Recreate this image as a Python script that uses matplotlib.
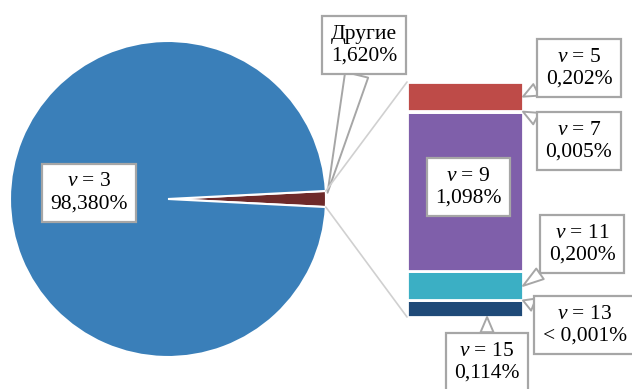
import numpy as np
import matplotlib
matplotlib.use("Agg")
import matplotlib.pyplot as plt
from matplotlib.patches import ConnectionPatch

plt.rcParams['font.family'] = ['Liberation Serif', 'DejaVu Serif']
plt.rcParams['mathtext.fontset'] = 'custom'
plt.rcParams['mathtext.rm'] = 'Liberation Serif'
plt.rcParams['mathtext.it'] = 'Liberation Serif:italic'

# main pie: v = 3 against all other states
pie_labels = ["3", "Другие"]
pie_values = [98.380, 1.620]
pie_colors = ["#3A7FB9", "#6E2A2A"]

# breakdown of "Другие", stacked from the bottom up
bar_v = [15, 13, 11, 9, 7, 5]
bar_values = [0.114, 0.0005, 0.200, 1.098, 0.005, 0.202]
bar_colors = ["#1F4A78", "#1F4A78", "#3BAFC4", "#7F5FAA", "#7F5FAA", "#BE4B48"]

W, H = 632, 389
fig = plt.figure(figsize=(W / 100, H / 100), dpi=100)
fs = 15.5


def fig_px(x, y):
    # pixel position measured from the top-left corner
    return (x, H - y)


def pct(val):
    if val < 0.001:
        return "< 0,001%"
    return f"{val:.3f}".replace(".", ",") + "%"


box = dict(boxstyle="square,pad=0.4", fc="white", ec="#A6A6A6", lw=1.6)


def pointer(width):
    return dict(arrowstyle=f"wedge,tail_width={width},shrink_factor=0.5",
                fc="white", ec="#A6A6A6", lw=1.4, shrinkA=0, shrinkB=0)


# pie
ax_pie = fig.add_axes([10 / W, (H - 357) / H, 316 / W, 316 / H])
small = pie_values[1] / sum(pie_values) * 360
wedges, _ = ax_pie.pie(pie_values[::-1], colors=pie_colors[::-1],
                       startangle=-small / 2, counterclock=True,
                       wedgeprops=dict(edgecolor="white", linewidth=1.5))
ax_pie.set_xlim(-1, 1)
ax_pie.set_ylim(-1, 1)
ax_pie.set_aspect("equal")
ax_pie.axis("off")

ax_pie.text(-0.5, 0.04, f"$v$ = {pie_labels[0]}\n{pct(pie_values[0])}",
            ha="center", va="center", fontsize=fs, bbox=box)
ax_pie.annotate(f"{pie_labels[1]}\n{pct(pie_values[1])}", xy=(1.01, 0.04),
                xycoords="data", xytext=fig_px(364, 45),
                textcoords="figure pixels", ha="center", va="center",
                fontsize=fs, bbox=box, arrowprops=pointer(1.1),
                annotation_clip=False)

# stacked bar of the small slice
ax_bar = fig.add_axes([407 / W, (H - 317) / H, 116 / W, 235 / H])
bottoms = np.concatenate([[0], np.cumsum(bar_values)[:-1]])
ax_bar.bar(0, bar_values, bottom=bottoms, width=1.0, color=bar_colors,
           edgecolor="white", linewidth=2.0)
ax_bar.set_xlim(-0.5, 0.5)
ax_bar.set_ylim(0, sum(bar_values))
ax_bar.axis("off")

# lines joining the slice to the bar
ang = np.deg2rad(small / 2)
for sign, ybar in [(1, sum(bar_values)), (-1, 0)]:
    con = ConnectionPatch(xyA=(np.cos(ang), sign * np.sin(ang)), coordsA=ax_pie.transData,
                          xyB=(-0.5, ybar), coordsB=ax_bar.transData,
                          color="#D0D0D0", lw=1.2)
    fig.add_artist(con)

mids = bottoms + np.array(bar_values) / 2
# label positions (px from top-left) and tips on the bar
spots = {
    5: ((579, 68), (0.5, mids[5])),
    7: ((579, 141), (0.5, mids[4])),
    11: ((582, 244), (0.5, mids[2])),
    13: ((585, 325), (0.5, mids[1])),
    15: ((487, 362), (0.19, 0)),
}
for i, v in enumerate(bar_v):
    txt = f"$v$ = {v}\n{pct(bar_values[i])}"
    if v == 9:
        ax_bar.text(0.03, mids[i] + 0.03, txt, ha="center", va="center",
                    fontsize=fs, bbox=box)
        continue
    (tx, ty), tip = spots[v]
    ax_bar.annotate(txt, xy=tip, xycoords="data", xytext=fig_px(tx, ty),
                    textcoords="figure pixels", ha="center", va="center",
                    fontsize=fs, bbox=box, arrowprops=pointer(0.6),
                    annotation_clip=False)

fig.savefig("out.png", dpi=100)
